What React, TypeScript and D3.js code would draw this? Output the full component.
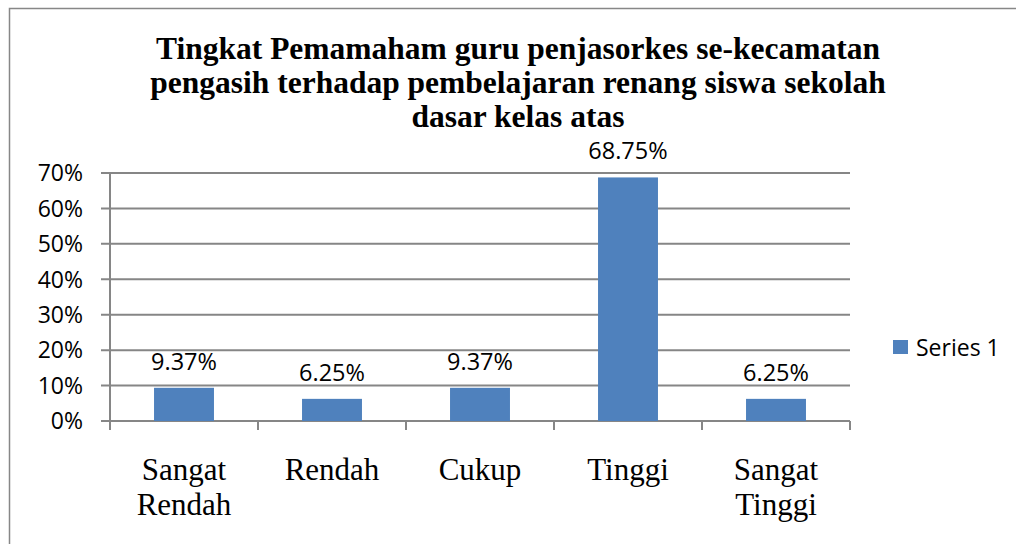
import React from 'react';
import * as d3 from 'd3';

const categories = ['Sangat Rendah', 'Rendah', 'Cukup', 'Tinggi', 'Sangat Tinggi'];
const values = [9.37, 6.25, 9.37, 68.75, 6.25];
const valueLabels = ['9.37%', '6.25%', '9.37%', '68.75%', '6.25%'];
const yTicks = [0, 10, 20, 30, 40, 50, 60, 70];
const titleLines = [
  'Tingkat Pemamaham guru penjasorkes se-kecamatan',
  'pengasih terhadap pembelajaran renang siswa sekolah',
  'dasar kelas atas',
];
const seriesName = 'Series 1';

const width = 1016;
const height = 544;
const marginLeft = 110;
const marginRight = 166;
const plotTop = 173;
const plotBottom = 421;

const barColor = '#4F81BD';
const gridColor = '#868686';
const sans = '"Open Sans", "Liberation Sans", sans-serif';
const serif = '"Liberation Serif", "Times New Roman", serif';

export default function App() {
  const x = d3.scaleBand<string>()
    .domain(categories)
    .range([marginLeft, width - marginRight])
    .paddingInner(0.595)
    .paddingOuter(0.2975);

  const xTicks = d3.scaleBand<string>()
    .domain(categories)
    .range([marginLeft, width - marginRight]);

  const y = d3.scaleLinear()
    .domain([0, 70])
    .range([plotBottom, plotTop]);

  const tickEdges = [...categories.map(c => xTicks(c) as number), width - marginRight];

  return (
    <svg width={width} height={height} style={{ position: 'absolute', left: 0, top: 0 }}>
      <rect x={0} y={0} width={width} height={height} fill="#fff" />
      <rect x={9.5} y={8.5} width={width + 20} height={height + 20} fill="none" stroke="#878787" strokeWidth={1.5} />

      <g fontFamily={serif} fontWeight="bold" fontSize={31.5} textAnchor="middle" fill="#000">
        {titleLines.map((t, i) => (
          <text key={i} x={518} y={59 + i * 34}>{t}</text>
        ))}
      </g>

      {/* gridlines + y ticks */}
      <g stroke={gridColor} strokeWidth={2}>
        {yTicks.map(t => (
          <line key={t} x1={101} x2={width - marginRight} y1={y(t)} y2={y(t)} />
        ))}
        <line x1={marginLeft} x2={marginLeft} y1={plotTop} y2={plotBottom + 9} />
        {tickEdges.slice(1).map((e, i) => (
          <line key={i} x1={e} x2={e} y1={plotBottom} y2={plotBottom + 9} />
        ))}
      </g>

      <g fontFamily={sans} fontSize={23} textAnchor="end" fill="#000">
        {yTicks.map(t => (
          <text key={t} x={83} y={y(t)} dy="0.36em">{t}%</text>
        ))}
      </g>

      {/* bars */}
      <g fill={barColor}>
        {categories.map((c, i) => (
          <rect key={c} x={x(c)} y={y(values[i])} width={x.bandwidth()} height={plotBottom - y(values[i])} />
        ))}
      </g>

      <g fontFamily={sans} fontSize={23.5} textAnchor="middle" fill="#000">
        {categories.map((c, i) => (
          <text key={c} x={(x(c) as number) + x.bandwidth() / 2} y={y(values[i]) - 18}>{valueLabels[i]}</text>
        ))}
      </g>

      {/* category labels */}
      <g fontFamily={serif} fontSize={31} textAnchor="middle" fill="#000">
        {categories.map(c => {
          const cx = (xTicks(c) as number) + xTicks.bandwidth() / 2;
          const words = c.split(' ');
          return (
            <text key={c} x={cx} y={480}>
              {words.map((w, j) => (
                <tspan key={j} x={cx} dy={j === 0 ? 0 : 35}>{w}</tspan>
              ))}
            </text>
          );
        })}
      </g>

      {/* legend */}
      <rect x={893} y={340} width={15} height={14} fill={barColor} />
      <text x={916} y={356} fontFamily={sans} fontSize={23} fill="#000">{seriesName}</text>
    </svg>
  );
}
